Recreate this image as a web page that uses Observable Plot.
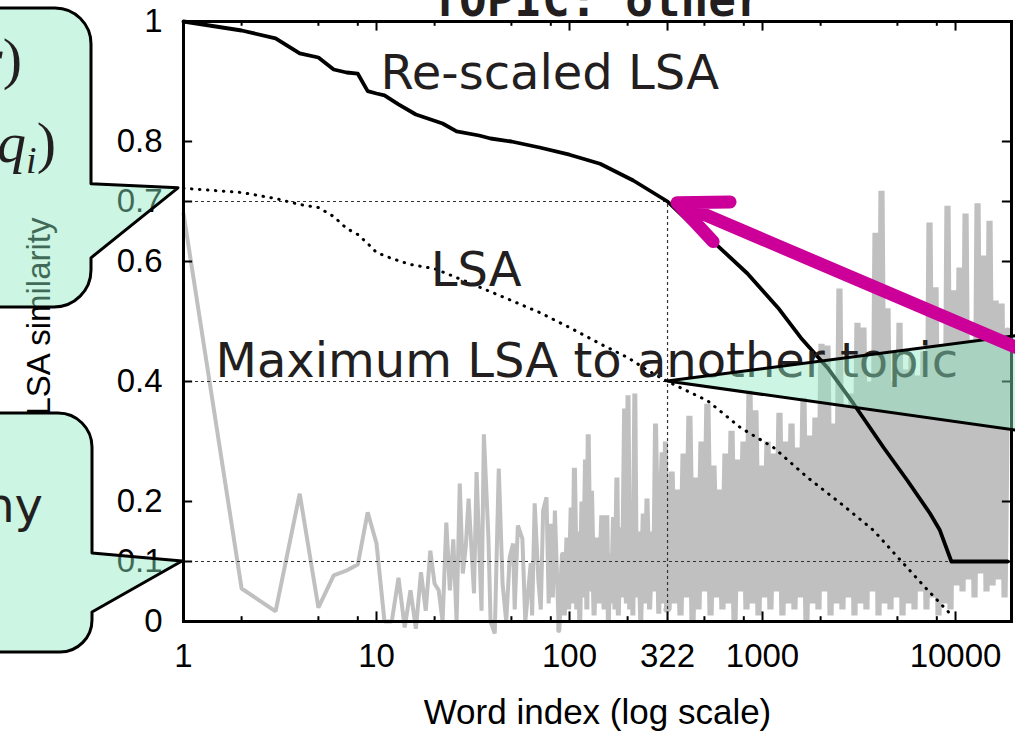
<!DOCTYPE html>
<html><head><meta charset="utf-8">
<script src="https://cdn.jsdelivr.net/npm/d3@7"></script>
<script src="https://cdn.jsdelivr.net/npm/@observablehq/plot@0.6"></script>
<style>
html,body{margin:0;padding:0;background:#fff;overflow:hidden;}
#chart{position:relative;width:1015px;height:735px;}
</style></head><body><div id="chart"></div>
<script>
// ---- tick labels ----
const xTickValues = [1, 10, 100, 322, 1000, 10000];
const xMinorTickValues = [2, 5, 8, 20, 50, 80, 200, 500, 800, 2000, 5000, 8000];
const yTickValues = [0, 0.1, 0.2, 0.4, 0.6, 0.7, 0.8, 1];

// ---- Re-scaled LSA (solid black) ----
const rescaledIndex = [1,2,3,4,5,6,7,8,9,10,11,13,16,22,26,34,39,50,70,100,144,214,322,409,582,835,1202,1578,2170,2963,4238,5630,7380,8300,9520,18600];
const rescaledValue = [1,0.985,0.972,0.947,0.94,0.92,0.915,0.913,0.884,0.88,0.877,0.862,0.845,0.83,0.817,0.81,0.805,0.8,0.79,0.778,0.763,0.735,0.7,0.668,0.627,0.58,0.523,0.473,0.423,0.363,0.29,0.235,0.18,0.152,0.1,0.1];

// ---- LSA (dotted black) ----
const lsaIndex = [1,2,3,4,5,6,7,8,9,10,12,15,20,30,50,70,100,150,200,250,322,519,769,1140,1711,2536,3758,5190,7000,9700];
const lsaValue = [0.722,0.715,0.705,0.695,0.69,0.675,0.655,0.645,0.63,0.615,0.605,0.595,0.588,0.565,0.535,0.515,0.49,0.46,0.44,0.42,0.4,0.368,0.323,0.29,0.24,0.197,0.152,0.102,0.056,0.008];

// ---- Maximum LSA to another topic (grey), [word index, value] ----
const maxOtherPairs = [
[1,0.68],[2,0.055],[3,0.017],[4,0.213],[5,0.023],[6,0.077],[7,0.085],[8,0.095],[9,0.182],[10,0.13],
[11,0.0],[12,0.0],[13,0.073],[14,-0.01],[15,0.052],[16,-0.012],[17,0.082],[18,0.018],[19,0.118],[20,0.063],
[21,0.052],[22,0.0],[23,0.165],[24,0.052],[25,0.137],[26,0.0],[27,0.23],[28,0.08],[29,0.124],[30,0.205],
[32,0.047],[33,0.249],[35,0.018],[36,0.312],[38,0.14],[39,0.0],[41,-0.02],[43,0.255],[45,0.063],[47,0.0],
[49,0.107],[51,0.13],[52,0.02],[54,0.16],[57,0.138],[59,0.0],[63,0.097],[64,0.01],[66,0.197],[69,0.068],
[71,0.02],[73,0.185],[76,0.207],[78,0.03],[80,0.163],[82,0.04],[84,0.185],[88,-0.015],[92,0.113],[94,0.01],
[97,0.14],[99,0.02],[102,0.19],[104,0.03],[106,0.256],[109,0.02],[111,0.15],[113,0.0],[116,0.2],[118,0.04],
[121,0.27],[123,0.02],[125,0.312],[128,0.05],[130,0.218],[134,0.01],[138,0.14],[142,0.03],[147,0.177],[151,0.02],
[156,0.177],[159,0.0],[162,0.113],[165,0.03],[169,0.174],[172,0.02],[176,0.24],[179,0.01],[183,0.157],[188,0.04],
[193,0.355],[197,0.03],[201,0.377],[205,0.02],[209,0.163],[213,0.01],[218,0.38],[222,0.04],[227,0.15],[234,0.0],
[241,0.18],[246,0.03],[252,0.205],[260,0.02],[268,0.15],[273,0.05],[279,0.33],[290,0.013],[296,0.2],[302,0.282],
[308,0.03],[314,0.3],[318,0.02],
[326,0.02],[338,0.25],[350,0.03],[363,0.22],[376,0.01],[390,0.28],[404,0.04],[418,0.343],[434,0.0],[449,0.24],
[466,0.02],[483,0.3],[500,0.05],[518,0.363],[538,0.01],[557,0.26],[577,0.04],[598,0.22],[620,0.02],[643,0.28],
[667,0.03],[691,0.318],[716,0.0],[742,0.27],[769,0.05],[797,0.3],[826,0.02],[856,0.385],[887,0.03],[919,0.352],
[953,0.01],[987,0.26],[1023,0.04],[1061,0.3],[1099,0.02],[1139,0.28],[1181,0.05],[1224,0.348],[1268,0.01],[1315,0.3],
[1363,0.03],[1413,0.33],[1464,0.02],[1517,0.29],[1573,0.04],[1630,0.373],[1689,0.0],[1751,0.31],[1815,0.03],[1881,0.34],
[1950,0.02],[2021,0.463],[2094,0.05],[2170,0.46],[2251,0.01],[2331,0.33],[2416,0.03],[2504,0.555],[2595,0.02],[2690,0.36],
[2788,0.04],[2890,0.38],[2995,0.01],[3104,0.498],[3217,0.03],[3334,0.49],[3455,0.02],[3581,0.4],[3715,0.05],[3850,0.648],
[3990,0.01],[4135,0.718],[4286,0.03],[4442,0.522],[4604,0.02],[4771,0.4],[4945,0.04],[5125,0.498],[5315,0.01],[5508,0.42],
[5709,0.03],[5917,0.44],[6132,0.02],[6355,0.41],[6587,0.05],[6826,0.45],[7075,0.02],[7332,0.665],[7600,0.04],[7877,0.557],
[8163,0.01],[8460,0.46],[8768,0.03],[9087,0.693],[9418,0.02],[9761,0.552],[10116,0.06],[10484,0.59],[10875,0.05],[11271,0.68],
[11681,0.07],[12106,0.47],[12547,0.04],[13004,0.697],[13477,0.08],[13968,0.61],[14476,0.05],[15003,0.668],[15560,0.06],[16126,0.535],
[16713,0.07],[17321,0.53],[17952,0.04],[18605,0.485]
];

// ---- highlighted cut-off ----
const cutoffRank = 322;
const cutoffRescaled = 0.7;
const cutoffLsa = 0.4;
const floorLevel = 0.1;

const ink = "#231f20";
const mint = "#8fe8c0";
const sparseOther = maxOtherPairs.filter(d => d[0] <= 92);
const midOther = maxOtherPairs.filter(d => d[0] >= 88 && d[0] <= 326);
const denseOther = maxOtherPairs.filter(d => d[0] >= 318);

const plot = Plot.plot({
  width: 1015, height: 735,
  marginLeft: 183, marginRight: 4, marginTop: 21, marginBottom: 114,
  style: {fontFamily: "'Liberation Sans', Arial, sans-serif", fontSize: "32px", background: "#fff", color: "#000"},
  x: {type: "log", domain: [1, 19500], axis: null},
  y: {domain: [0, 1], axis: null},
  marks: [
    Plot.line(sparseOther, {x: d => d[0], y: d => d[1], stroke: "#c0c0c0", strokeWidth: 4, strokeLinejoin: "bevel"}),
    Plot.line(midOther, {x: d => d[0], y: d => d[1], stroke: "#c0c0c0", strokeWidth: 5, strokeLinejoin: "bevel"}),
    Plot.line(denseOther, {x: d => d[0], y: d => d[1], stroke: "#c0c0c0", strokeWidth: 6.2, strokeLinejoin: "bevel"}),
    Plot.ruleY([cutoffRescaled, cutoffLsa], {x1: 1, x2: cutoffRank, stroke: "#333", strokeWidth: 1.2, strokeDasharray: "3,3"}),
    Plot.ruleY([floorLevel], {x1: 1, x2: 19500, stroke: "#333", strokeWidth: 1.2, strokeDasharray: "3,3"}),
    Plot.ruleX([cutoffRank], {y1: 0, y2: cutoffRescaled, stroke: "#333", strokeWidth: 1.2, strokeDasharray: "3,3"}),
    Plot.line(lsaValue, {x: lsaIndex, y: lsaValue, stroke: "#000", strokeWidth: 3, strokeDasharray: "0.5,7.5", strokeLinecap: "round"}),
    Plot.line(rescaledValue, {x: rescaledIndex, y: rescaledValue, stroke: "#000", strokeWidth: 3.8}),
    Plot.text(["Re-scaled LSA"], {x: 10.5, y: 0.888, textAnchor: "start", lineAnchor: "bottom", fontFamily: "DejaVu Sans", fontSize: 48, fill: ink}),
    Plot.text(["LSA"], {x: 19.1, y: 0.56, textAnchor: "start", lineAnchor: "bottom", fontFamily: "DejaVu Sans", fontSize: 48, fill: ink}),
    Plot.text(["Maximum LSA to another topic"], {x: 1.465, y: 0.4067, textAnchor: "start", lineAnchor: "bottom", fontFamily: "DejaVu Sans", fontSize: 48, fill: ink}),
    Plot.frame({stroke: "#000", strokeWidth: 3}),
    Plot.ruleX(xTickValues, {y1: 0, y2: 0.016, stroke: "#000", strokeWidth: 2}),
    Plot.ruleX(xTickValues, {y1: 1, y2: 0.984, stroke: "#000", strokeWidth: 2}),
    Plot.ruleX(xMinorTickValues, {y1: 0, y2: 0.008, stroke: "#000", strokeWidth: 2}),
    Plot.ruleX(xMinorTickValues, {y1: 1, y2: 0.992, stroke: "#000", strokeWidth: 2}),
    Plot.ruleY(yTickValues, {x1: 1, x2: 1.115, stroke: "#000", strokeWidth: 2}),
    Plot.ruleY(yTickValues, {x1: 19500, x2: 17490, stroke: "#000", strokeWidth: 2}),
    Plot.text(xTickValues, {x: d => d, frameAnchor: "bottom", lineAnchor: "top", dy: 22, text: d => String(d), fontSize: 33, fill: "#000"}),
    Plot.axisY({ticks: yTickValues, tickFormat: d => String(d), tickSize: 0, tickPadding: 21, label: null, fontSize: 33}),
    Plot.text(["Word index (log scale)"], {frameAnchor: "bottom", lineAnchor: "bottom", dy: 102, fontSize: 35, fill: "#000"}),
    Plot.text(["LSA similarity"], {frameAnchor: "left", dx: -144, dy: -5, rotate: -90, textAnchor: "middle", lineAnchor: "middle", fontSize: 33, fill: "#000"}),
    Plot.text(["TOPIC: other"], {frameAnchor: "top", lineAnchor: "bottom", dy: -6, fontFamily: "'DejaVu Sans Mono', 'Liberation Mono', monospace", fontWeight: "bold", fontSize: 46, fill: ink})
  ]
});
document.getElementById("chart").appendChild(plot);

// ---- annotations (callouts and arrow) ----
const svg = d3.select(plot);
const sx = plot.scale("x"), sy = plot.scale("y");
const X = v => sx.apply(v), Y = v => sy.apply(v);

// callout from the cut-off point of the LSA curve
const cx = X(cutoffRank), cy = Y(cutoffLsa);
const tri = svg.append("g");
tri.append("path").attr("d", `M${cx},${cy} L${cx + 370},${cy - 48} L${cx + 370},${cy + 52} Z`)
  .attr("fill", mint).attr("fill-opacity", 0.45).attr("stroke", "none");
tri.append("path").attr("d", `M${cx + 370},${cy - 48} L${cx},${cy} L${cx + 370},${cy + 52}`)
  .attr("fill", "none").attr("stroke", "#000").attr("stroke-width", 3).attr("stroke-linejoin", "miter");

// left speech bubbles
const t1x = X(1) - 5, t1y = Y(lsaValue[0]);
const t2x = X(1) - 1, t2y = Y(floorLevel);
const bub = svg.append("g").attr("fill", mint).attr("fill-opacity", 0.45).attr("stroke", "#000").attr("stroke-width", 3).attr("stroke-linejoin", "round");
bub.append("path").attr("d", `M-60,8 H55 A36,36 0 0 1 91,44 V${t1y - 4} L${t1x},${t1y} L91,${t1y + 70} V270 A37,37 0 0 1 54,307 H-60 Z`);
bub.append("path").attr("d", `M-60,413 H58 A34,34 0 0 1 92,447 V${t2y - 8} L${t2x},${t2y} L92,${t2y + 51} V620 A32,32 0 0 1 60,652 H-60 Z`);

const bt = svg.append("g").attr("fill", ink);
const l1 = bt.append("text").attr("x", 22).attr("y", 78).attr("text-anchor", "end").attr("font-family", "'Liberation Serif', serif").attr("font-size", 58);
l1.append("tspan").attr("font-style", "italic").text("r");
l1.append("tspan").text(")");
const l2 = bt.append("text").attr("x", 56).attr("y", 162).attr("text-anchor", "end").attr("font-family", "'Liberation Serif', serif").attr("font-size", 58);
l2.append("tspan").attr("font-style", "italic").text("q");
l2.append("tspan").attr("font-style", "italic").attr("font-size", 38).attr("dy", 11).text("i");
l2.append("tspan").attr("dy", -11).text(")");
bt.append("text").attr("x", 43).attr("y", 522).attr("text-anchor", "end").attr("font-family", "'DejaVu Sans', sans-serif").attr("font-size", 48).text("ny");

// magenta arrow pointing at the cut-off on the re-scaled curve
const tip = [X(363), Y(0.697)], tail = [X(27570), Y(0.439)];
const ang = Math.atan2(tail[1] - tip[1], tail[0] - tip[0]);
const wl = 53, wa = 24 * Math.PI / 180;
const w1 = [tip[0] + wl * Math.cos(ang - wa), tip[1] + wl * Math.sin(ang - wa)];
const w2 = [tip[0] + wl * Math.cos(ang + wa), tip[1] + wl * Math.sin(ang + wa)];
svg.append("path")
  .attr("d", `M${tail[0]},${tail[1]} L${tip[0]},${tip[1]} M${w1[0]},${w1[1]} L${tip[0]},${tip[1]} L${w2[0]},${w2[1]}`)
  .attr("fill", "none").attr("stroke", "#cc0099").attr("stroke-width", 13)
  .attr("stroke-linecap", "round").attr("stroke-linejoin", "round");
</script>
</body></html>
